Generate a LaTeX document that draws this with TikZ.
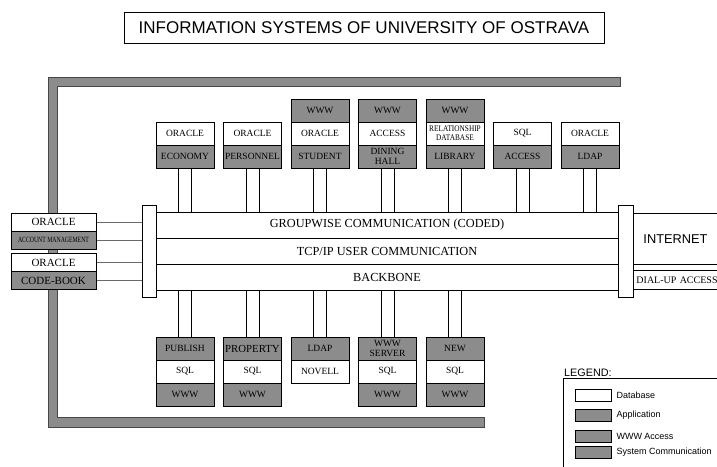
\documentclass[tikz,border=0pt]{standalone}
\usepackage{fontspec}
\setmainfont{Liberation Serif}
\setsansfont{Liberation Sans}
\newfontfamily\condserif[FakeStretch=0.72]{Liberation Serif}
\newfontfamily\narrowserif[FakeStretch=0.85]{Liberation Serif}
\usetikzlibrary{positioning,backgrounds}
\definecolor{cellgray}{RGB}{140,140,140}
\definecolor{framedark}{RGB}{70,70,70}
\definecolor{linkgray}{RGB}{105,105,105}

\begin{document}
\begin{tikzpicture}[x=1pt, y=-1pt, node distance=67.5pt, auto,
    cell/.style={draw, line width=1pt, minimum width=58pt, minimum height=23pt, inner sep=0pt, align=center, font=\fontsize{9.5}{9.6}\selectfont},
    db/.style={cell, fill=white},
    app/.style={cell, fill=cellgray},
    ontop/.style={node distance=23pt, above of=#1},
    under/.style={node distance=23pt, below of=#1},
    sidecell/.style={cell, minimum width=85pt, minimum height=18pt, font=\fontsize{11}{12}\selectfont},
    bus/.style={draw, fill=white, line width=0.9pt, minimum width=462pt, minimum height=26pt, inner sep=0pt, font=\fontsize{12.3}{13}\selectfont},
    endcap/.style={draw, line width=1pt, fill=white, minimum width=14pt, minimum height=92pt, inner sep=0pt},
    stubline/.style={line width=0.9pt},
    link/.style={draw=linkgray, line width=1pt},
    swatch/.style={draw, line width=0.6pt, minimum width=36pt, minimum height=12pt, inner sep=0pt},
    legtext/.style={inner sep=1pt, font=\sffamily\fontsize{9}{10}\selectfont}]
    \useasboundingbox (0,0) rectangle (717,466);
    \clip (0,0) rectangle (717,466);

    \node[draw, line width=0.8pt, minimum width=480pt, minimum height=31pt, font=\sffamily\fontsize{17}{20}\selectfont] (title) at (364,27.5) {INFORMATION SYSTEMS OF UNIVERSITY OF OSTRAVA};

    \filldraw[fill=cellgray, draw=framedark, line width=0.8pt] (48,77) -- (620,77) -- (620,86) -- (57,86) -- (57,417) -- (484,417) -- (484,427) -- (48,427) -- cycle;

    \node[bus] (gw) at (387,225) {GROUPWISE COMMUNICATION (CODED)};
    \node[bus, node distance=26pt, below of=gw] (tcp) {TCP/IP USER COMMUNICATION};
    \node[bus, node distance=26pt, below of=tcp] (bb) {BACKBONE};
    \node[endcap] (lcap) at (149,251) {};
    \node[endcap, minimum width=15pt] (rcap) at (625.5,251) {};

    \node[app] (eco) at (185,156.5) {ECONOMY};
    \node[db, ontop=eco] (ecodb) {ORACLE};
    \node[app, right of=eco] (pers) {PERSONNEL};
    \node[db, ontop=pers] (persdb) {ORACLE};
    \node[app, right of=pers] (stud) {STUDENT};
    \node[db, ontop=stud] (studdb) {ORACLE};
    \node[app, ontop=studdb] (studw) {WWW};
    \node[app, right of=stud] (dine) {DINING\\HALL};
    \node[db, ontop=dine] (dinedb) {ACCESS};
    \node[app, ontop=dinedb] (dinew) {WWW};
    \node[app, right of=dine] (lib) {LIBRARY};
    \node[db, ontop=lib, font=\narrowserif\fontsize{8.6}{9}\selectfont] (libdb) {RELATIONSHIP\\DATABASE};
    \node[app, ontop=libdb] (libw) {WWW};
    \node[app, right of=lib] (acs) {ACCESS};
    \node[db, ontop=acs] (acsdb) {SQL};
    \node[app, right of=acs] (ldap) {LDAP};
    \node[db, ontop=ldap] (ldapdb) {ORACLE};

    \node[app] (pub) at (185,348.5) {PUBLISH};
    \node[db, under=pub] (pubdb) {SQL};
    \node[app, under=pubdb] (pubw) {WWW};
    \node[app, right of=pub, font=\fontsize{10.8}{11}\selectfont] (prop) {PROPERTY};
    \node[db, under=prop] (propdb) {SQL};
    \node[app, under=propdb] (propw) {WWW};
    \node[app, right of=prop] (nov) {LDAP};
    \node[db, under=nov] (novdb) {NOVELL};
    \node[app, right of=nov] (wsrv) {WWW\\SERVER};
    \node[db, under=wsrv] (wsrvdb) {SQL};
    \node[app, under=wsrvdb] (wsrvw) {WWW};
    \node[app, right of=wsrv] (new) {NEW};
    \node[db, under=new] (newdb) {SQL};
    \node[app, under=newdb] (neww) {WWW};

    \begin{scope}[on background layer]
        \foreach \n in {eco,pers,stud,dine,lib,acs,ldap}
            \foreach \s in {-6.5,6.5}
                \draw[stubline] ([xshift=\s pt]\n.center) -- ([xshift=\s pt]\n.center |- gw.center);
        \foreach \n in {pub,prop,nov,wsrv,new}
            \foreach \s in {-6.5,6.5}
                \draw[stubline] ([xshift=\s pt]\n.center |- bb.center) -- ([xshift=\s pt]\n.center);
    \end{scope}

    \node[sidecell, fill=white] (acc1) at (53.5,222) {ORACLE};
    \node[sidecell, fill=cellgray, node distance=18pt, below of=acc1, font=\condserif\fontsize{8}{9}\selectfont] (acc2) {ACCOUNT MANAGEMENT};
    \node[sidecell, fill=white] (cb1) at (53.5,262.5) {ORACLE};
    \node[sidecell, fill=cellgray, node distance=18pt, below of=cb1] (cb2) {CODE-BOOK};

    \foreach \n in {acc1,acc2,cb1,cb2}
        \draw[link] (\n.east) -- (\n.east -| lcap.west);

    \node[draw, line width=0.9pt, anchor=north west, minimum height=51pt, text width=80pt, inner xsep=10pt, align=left, font=\sffamily\fontsize{12.8}{14}\selectfont] (inet) at (633,213) {INTERNET};
    \node[draw, line width=0.9pt, anchor=north west, minimum height=19pt, text width=94pt, inner xsep=3pt, inner ysep=0pt, align=left, font=\fontsize{10}{11}\selectfont] (dial) at (633,270) {DIAL-UP ACCESS};

    \node[anchor=south west, inner sep=0pt, font=\sffamily\fontsize{10.8}{12}\selectfont] (legtitle) at (564,377) {LEGEND:};
    \node[draw, line width=0.6pt, anchor=north west, minimum width=200pt, minimum height=120pt] (legend) at (563,378) {};
    \foreach \y/\c/\t [count=\i] in {395/white/Database, 415.5/cellgray/Application, 436/cellgray/WWW Access, 452/cellgray/System Communication} {
        \node[swatch, fill=\c] (sw\i) at (593,\y) {};
        \node[legtext, right=4pt of sw\i] (lt\i) {\t};
    }
\end{tikzpicture}
\end{document}
